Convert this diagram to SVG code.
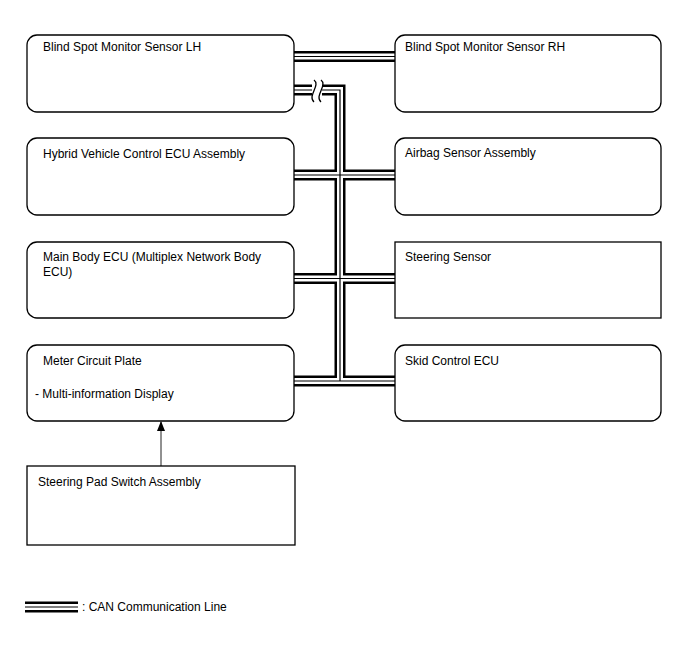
<svg xmlns="http://www.w3.org/2000/svg" width="688" height="658" viewBox="0 0 688 658">
<style>
.box{fill:#fff;stroke:#000;stroke-width:1.3}
.t{font-family:"Liberation Sans",Arial,sans-serif;font-size:12px;fill:#000}
.cb{fill:none;stroke:#000;stroke-width:11;stroke-linejoin:miter}
.cw{fill:none;stroke:#fff;stroke-width:6;stroke-linejoin:miter}
.cc{fill:none;stroke:#000;stroke-width:1.2;stroke-linejoin:miter}
.brk{fill:none;stroke:#000;stroke-width:1.3}
</style>
<defs>
<marker id="ah" markerWidth="10" markerHeight="12" refX="9" refY="4" orient="auto" markerUnits="userSpaceOnUse">
<path d="M0,0 L10,4 L0,8 Z" fill="#000"/>
</marker>
</defs>
<g id="connectors">
<g id="can-black">
<path class="cb" d="M294,56.5 H395"/>
<path class="cb" d="M294,90 H312 M322,90 H340 V381"/>
<path class="cb" d="M294,175 H395 M294,278.5 H395 M294,381 H395"/>
</g>
<g id="can-white">
<path class="cw" d="M294,56.5 H395"/>
<path class="cw" d="M294,90 H312 M322,90 H340 V381"/>
<path class="cw" d="M294,175 H395 M294,278.5 H395 M294,381 H395"/>
</g>
<g id="can-center">
<path class="cc" d="M294,56.5 H395"/>
<path class="cc" d="M294,90 H312 M322,90 H340 V381"/>
<path class="cc" d="M294,175 H395 M294,278.5 H395 M294,381 H395"/>
</g>
<path class="brk" d="M314,80 C321,85 307,96 314,102"/>
<path class="brk" d="M321,80 C328,85 314,96 321,102"/>
<line x1="161" y1="466" x2="161" y2="422" stroke="#222" stroke-width="1" marker-end="url(#ah)"/>
</g>
<g id="bsm-lh"><rect class="box" x="27" y="35" width="267" height="77" rx="10"/><text class="t" x="43" y="51">Blind Spot Monitor Sensor LH</text></g>
<g id="bsm-rh"><rect class="box" x="395" y="35" width="266" height="77" rx="10"/><text class="t" x="405" y="51">Blind Spot Monitor Sensor RH</text></g>
<g id="hv-ecu"><rect class="box" x="27" y="138" width="267" height="77" rx="10"/><text class="t" x="43" y="158">Hybrid Vehicle Control ECU Assembly</text></g>
<g id="airbag"><rect class="box" x="395" y="138" width="266" height="77" rx="10"/><text class="t" x="405" y="157">Airbag Sensor Assembly</text></g>
<g id="main-body"><rect class="box" x="27" y="242" width="267" height="76" rx="10"/><text class="t" x="43" y="261">Main Body ECU (Multiplex Network Body</text><text class="t" x="43" y="276">ECU)</text></g>
<g id="steering-sensor"><rect class="box" x="395" y="242" width="266" height="76"/><text class="t" x="405" y="261">Steering Sensor</text></g>
<g id="meter"><rect class="box" x="27" y="345" width="267" height="76" rx="10"/><text class="t" x="43" y="365">Meter Circuit Plate</text><text class="t" x="35" y="398">- Multi-information Display</text></g>
<g id="skid"><rect class="box" x="395" y="345" width="266" height="76" rx="10"/><text class="t" x="405" y="365">Skid Control ECU</text></g>
<g id="steering-pad"><rect class="box" x="27" y="466" width="268" height="79"/><text class="t" x="38" y="486">Steering Pad Switch Assembly</text></g>
<g id="legend">
<path class="cb" d="M25,607 H78"/><path class="cw" d="M25,607 H78"/><path class="cc" d="M25,607 H78"/>
<text class="t" x="82" y="611">: CAN Communication Line</text>
</g>
</svg>
